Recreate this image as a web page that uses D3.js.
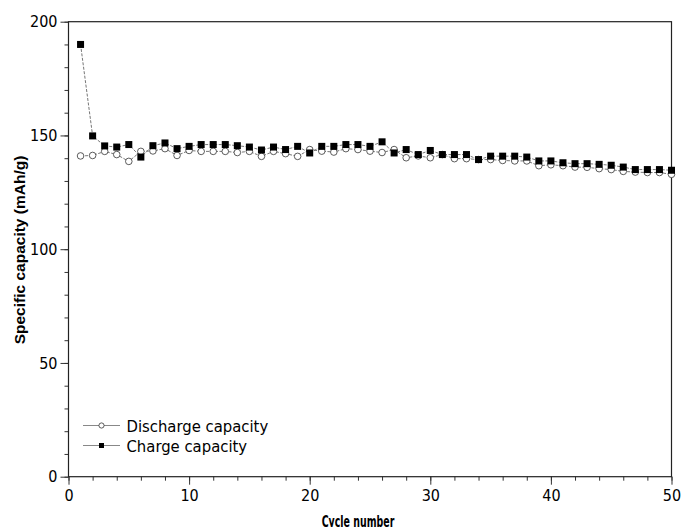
<!DOCTYPE html>
<html>
<head>
<meta charset="utf-8">
<script src="https://cdn.jsdelivr.net/npm/d3@7"></script>
<style>
  body { margin: 0; background: #fff; }
  svg { display: block; }
  .tick text { font-family: "DejaVu Sans Condensed", "DejaVu Sans", sans-serif; font-size: 16px; fill: #000; }
</style>
</head>
<body>
<svg id="chart" width="682" height="527"></svg>
<script>
// Chart data
const cycles = d3.range(1, 51);
const discharge = [141.0, 141.2, 143.0, 141.6, 138.6, 143.0, 143.2, 144.2, 141.2, 143.4,
                   143.0, 143.0, 143.0, 142.5, 143.0, 140.8, 143.0, 142.0, 140.8, 143.8,
                   143.1, 142.7, 144.2, 143.8, 143.1, 142.5, 143.8, 140.2, 141.0, 140.2,
                   141.6, 139.8, 139.8, 139.4, 139.4, 139.0, 138.8, 138.8, 136.7, 137.1,
                   136.7, 136.1, 136.0, 135.4, 135.0, 134.2, 133.9, 133.7, 133.7, 132.9];
const charge = [190.0, 149.8, 145.4, 144.9, 146.0, 140.5, 145.5, 146.7, 144.2, 145.2,
                146.0, 146.0, 146.0, 145.5, 144.9, 143.6, 144.9, 143.8, 145.2, 142.3,
                145.2, 145.2, 146.0, 146.0, 145.2, 147.2, 142.3, 143.8, 141.6, 143.4,
                141.6, 141.6, 141.6, 139.4, 140.9, 140.9, 140.9, 140.5, 138.8, 138.8,
                138.0, 137.6, 137.6, 137.3, 136.9, 136.1, 135.0, 135.0, 135.0, 134.7];
const xTicks = [0, 10, 20, 30, 40, 50];
const yTicks = [0, 50, 100, 150, 200];
const seriesNames = ["Discharge capacity", "Charge capacity"];

const svg = d3.select("#chart");
const m = { left: 68.5, right: 671.5, top: 21.7, bottom: 476.7 };

const x = d3.scaleLinear().domain([0, 50]).range([m.left, m.right]);
const y = d3.scaleLinear().domain([0, 200]).range([m.bottom, m.top]);

// minor ticks first, then major with labels
svg.append("g")
    .attr("transform", `translate(0,${m.bottom})`)
    .call(d3.axisBottom(x).tickValues(d3.range(0, 51, 2)).tickSize(4).tickFormat(""))
    .call(g => g.select(".domain").remove());
svg.append("g")
    .attr("transform", `translate(0,${m.bottom})`)
    .call(d3.axisBottom(x).tickValues(xTicks).tickSize(8).tickPadding(5))
    .call(g => g.select(".domain").remove());

svg.append("g")
    .attr("transform", `translate(${m.left},0)`)
    .call(d3.axisLeft(y).tickValues(d3.range(0, 201, 10)).tickSize(4).tickFormat(""))
    .call(g => g.select(".domain").remove());
svg.append("g")
    .attr("transform", `translate(${m.left},0)`)
    .call(d3.axisLeft(y).tickValues(yTicks).tickSize(8).tickPadding(3))
    .call(g => g.select(".domain").remove());

svg.selectAll(".tick line").attr("stroke", "#333");

// frame
svg.append("rect")
    .attr("x", m.left).attr("y", m.top)
    .attr("width", m.right - m.left).attr("height", m.bottom - m.top)
    .attr("fill", "none").attr("stroke", "#222").attr("stroke-width", 1.2);

const line = d3.line().x((d, i) => x(cycles[i])).y(d => y(d));

[discharge, charge].forEach(s => {
    svg.append("path")
        .datum(s)
        .attr("d", line)
        .attr("fill", "none")
        .attr("stroke", "#666")
        .attr("stroke-width", 0.9)
        .attr("stroke-dasharray", "3,1.5");
});

svg.append("g").selectAll("circle")
    .data(discharge)
    .join("circle")
    .attr("cx", (d, i) => x(cycles[i]))
    .attr("cy", d => y(d))
    .attr("r", 3.3)
    .attr("fill", "#fff")
    .attr("stroke", "#333")
    .attr("stroke-width", 0.8);

svg.append("g").selectAll("rect")
    .data(charge)
    .join("rect")
    .attr("x", (d, i) => x(cycles[i]) - 3.5)
    .attr("y", d => y(d) - 3.5)
    .attr("width", 7)
    .attr("height", 7)
    .attr("fill", "#000");

// legend
const lg = svg.append("g");
seriesNames.forEach((name, i) => {
    const ly = 425.5 + i * 20;
    lg.append("line")
        .attr("x1", 83).attr("x2", 120).attr("y1", ly).attr("y2", ly)
        .attr("stroke", "#888").attr("stroke-width", 1);
    if (i === 0) {
        lg.append("circle").attr("cx", 101.5).attr("cy", ly).attr("r", 2.6)
            .attr("fill", "#fff").attr("stroke", "#333").attr("stroke-width", 0.8);
    } else {
        lg.append("rect").attr("x", 99).attr("y", ly - 2.5).attr("width", 5).attr("height", 5)
            .attr("fill", "#000");
    }
    lg.append("text")
        .attr("x", 126.5).attr("y", ly + 6.3)
        .style("font-family", "'DejaVu Sans Condensed', 'DejaVu Sans', sans-serif")
        .style("font-size", "16.5px")
        .text(name);
});

// axis titles
svg.append("text")
    .attr("transform", "translate(358,527) scale(0.7,1)")
    .attr("text-anchor", "middle")
    .style("font-family", "'DejaVu Sans Condensed', 'DejaVu Sans', sans-serif")
    .style("font-size", "15px").style("font-weight", "bold")
    .text("Cycle number");

svg.append("text")
    .attr("transform", "translate(25,250) rotate(-90)")
    .attr("text-anchor", "middle")
    .style("font-family", "'Liberation Sans', sans-serif")
    .style("font-size", "15.5px").style("font-weight", "bold")
    .text("Specific capacity (mAh/g)");
</script>
</body>
</html>
